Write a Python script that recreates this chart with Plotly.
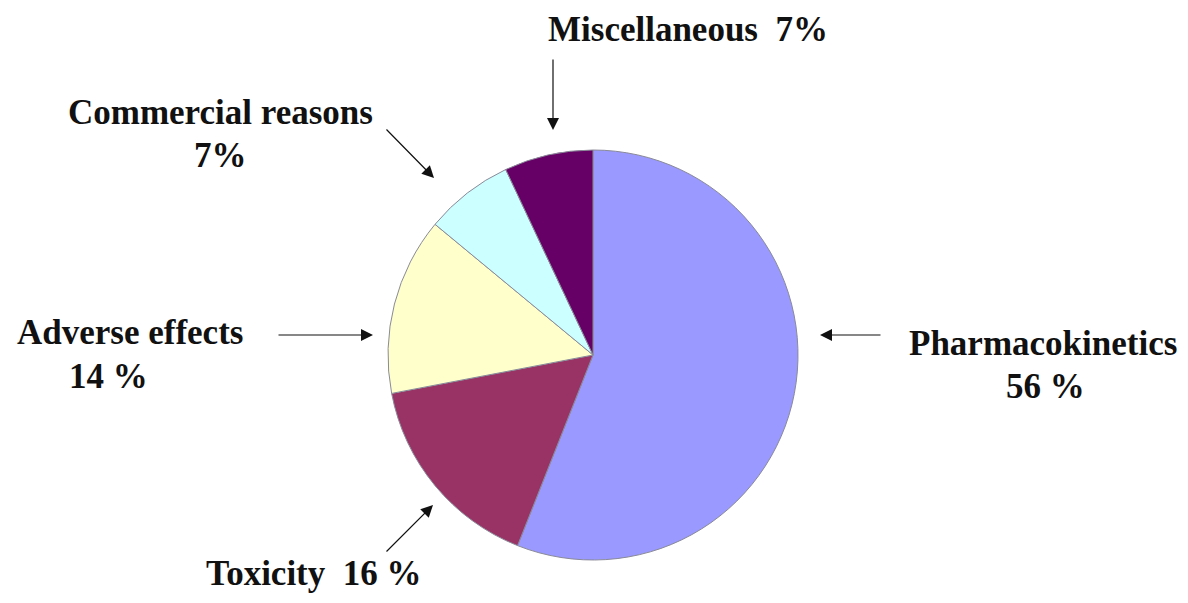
import plotly.graph_objects as go

OFF = 8  # page body margin
W, H = 1188 - 2 * OFF, 603 - 2 * OFF

categories = ["Pharmacokinetics", "Toxicity", "Adverse effects", "Commercial reasons", "Miscellaneous"]
values = [56, 16, 14, 7, 7]
colors = ["#9999FF", "#993366", "#FFFFCC", "#CCFFFF", "#660066"]
value_texts = ["56 %", "16 %", "14 %", "7%", "7%"]

# pie geometry in screen pixels
cx, cy, r = 593, 355, 205


def px(x):
    return (x - OFF) / W


def py(y):
    return 1 - (y - OFF) / H


fig = go.Figure(go.Pie(
    labels=categories,
    values=values,
    sort=False,
    direction="clockwise",
    rotation=0,
    textinfo="none",
    hoverinfo="label+percent",
    marker=dict(colors=colors, line=dict(color="#8a8a99", width=1)),
    domain=dict(x=[px(cx - r), px(cx + r)], y=[py(cy + r), py(cy - r)]),
    showlegend=False,
))

font = dict(family="Liberation Serif, Times New Roman, serif", size=35, color="#111111")


def text(x, y, s):
    fig.add_annotation(x=px(x), y=py(y), xref="paper", yref="paper", text="<b>%s</b>" % s,
                       showarrow=False, font=font, xanchor="center", yanchor="middle")


def arrow(tipx, tipy, tailx, taily):
    fig.add_annotation(x=px(tipx), y=py(tipy), xref="paper", yref="paper", text="",
                       showarrow=True, arrowhead=2, arrowsize=2.0, arrowwidth=1.2,
                       arrowcolor="#111111", ax=tailx - tipx, ay=taily - tipy, standoff=0)


# labels
text(1043, 343, categories[0])
text(1045, 387, value_texts[0])
text(314, 573, categories[1] + "&nbsp;&nbsp;" + value_texts[1])
text(130, 332, categories[2])
text(108, 376, value_texts[2])
text(220, 112, categories[3])
text(220, 156, value_texts[3])
text(688, 29, categories[4] + "&nbsp;&nbsp;" + value_texts[4])

# arrows
arrow(820, 335, 882, 335)
arrow(433, 505, 385, 553)
arrow(373, 335, 277, 335)
arrow(434, 178, 385, 128)
arrow(553, 130, 553, 58)

fig.update_layout(width=W, height=H, margin=dict(l=0, r=0, t=0, b=0),
                  paper_bgcolor="white", plot_bgcolor="white")

fig.write_html("out.html")
